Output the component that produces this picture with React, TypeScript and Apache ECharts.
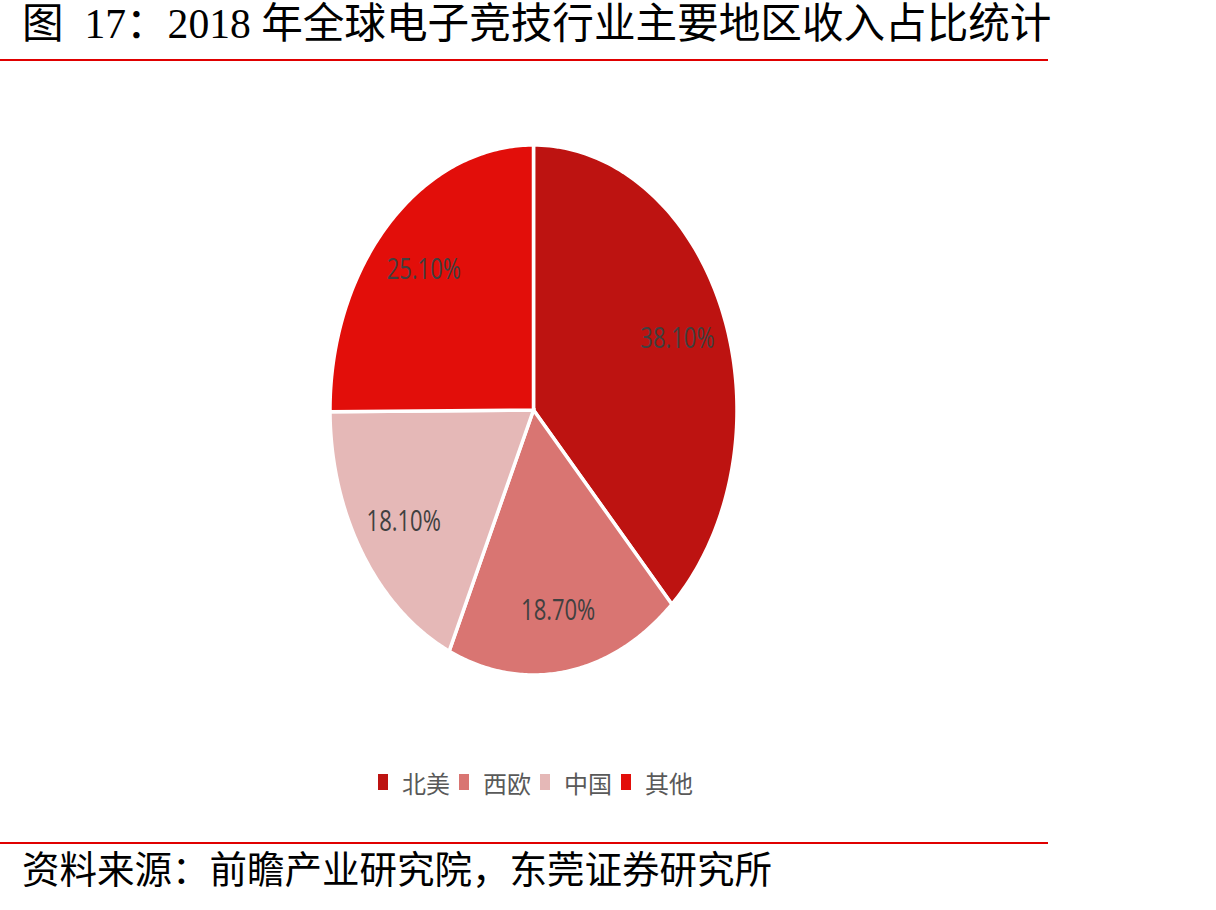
import React, { useEffect, useRef } from "react";
import * as echarts from "echarts";

const regions = ["北美", "西欧", "中国", "其他"];
const shares = [38.1, 18.7, 18.1, 25.1];
const colors = ["#BD1311", "#D97572", "#E5B8B7", "#E20E0A"];
const titleText = "图  17：2018 年全球电子竞技行业主要地区收入占比统计";
const sourceText = "资料来源：前瞻产业研究院，东莞证券研究所";

export default function App() {
  const ref = useRef<HTMLDivElement>(null);
  useEffect(() => {
    document.body.style.margin = "0";
    const chart = echarts.init(ref.current!, null, { renderer: "svg" });
    const total = shares.reduce((a, b) => a + b, 0);
    const starts: number[] = [];
    let acc = 0;
    shares.forEach((v) => {
      starts.push(acc);
      acc += v;
    });
    const CX = 533.5, CY = 410, RX = 203.5, RY = 265;
    const makeSeries = (i: number) => ({
      type: "custom",
      name: regions[i],
      coordinateSystem: "none",
      itemStyle: { color: colors[i] },
      data: [shares[i]],
      renderItem: (params: any, api: any) => {
        const a0 = (starts[i] / total) * Math.PI * 2;
        const a1 = ((starts[i] + shares[i]) / total) * Math.PI * 2;
        const pts: number[][] = [[CX, CY]];
        const n = 120;
        for (let k = 0; k <= n; k++) {
          const t = a0 + ((a1 - a0) * k) / n;
          pts.push([CX + RX * Math.sin(t), CY - RY * Math.cos(t)]);
        }
        const mid = (a0 + a1) / 2;
        const lr = 0.76;
        const lx = CX + RX * lr * Math.sin(mid);
        const ly = CY - RY * lr * Math.cos(mid);
        return {
          type: "group",
          children: [
            {
              type: "polygon",
              shape: { points: pts },
              style: { fill: colors[i], stroke: "#ffffff", lineWidth: 3.5, lineJoin: "miter" },
            },
            {
              type: "text",
              x: lx,
              y: ly,
              scaleY: 1.3,
              style: {
                text: shares[i].toFixed(2) + "%",
                fill: "#404040",
                font: '22px "Liberation Sans Narrow", "Open Sans", sans-serif',
                align: "center",
                verticalAlign: "middle",
                textAlign: "center",
                textVerticalAlign: "middle",
              },
            },
          ],
        };
      },
    });
    chart.setOption({
      animation: false,
      legend: {
        data: regions,
        left: 373,
        top: 765,
        icon: "rect",
        itemWidth: 10,
        itemHeight: 16,
        itemGap: 9,
        textStyle: {
          fontSize: 24,
          color: "#595959",
          fontFamily: '"Noto Sans CJK SC", sans-serif',
          padding: [0, 0, 0, 9],
        },
        selectedMode: false,
      },
      graphic: [
        {
          type: "text",
          left: 22,
          top: 3,
          style: {
            text: titleText,
            fill: "#000000",
            font: '41.6px "Liberation Serif", "Noto Sans CJK SC", serif',
          },
        },
        {
          type: "line",
          shape: { x1: 0, y1: 60, x2: 1048, y2: 60 },
          style: { stroke: "#E00000", lineWidth: 2 },
        },
        {
          type: "line",
          shape: { x1: 0, y1: 843, x2: 1048, y2: 843 },
          style: { stroke: "#E00000", lineWidth: 2 },
        },
        {
          type: "text",
          left: 22,
          top: 852,
          style: {
            text: sourceText,
            fill: "#000000",
            font: '37.5px "Liberation Serif", "Noto Sans CJK SC", serif',
          },
        },
      ],
      series: regions.map((_, i) => makeSeries(i)),
    });
    return () => chart.dispose();
  }, []);
  return <div ref={ref} style={{ width: 1216, height: 910 }} />;
}
